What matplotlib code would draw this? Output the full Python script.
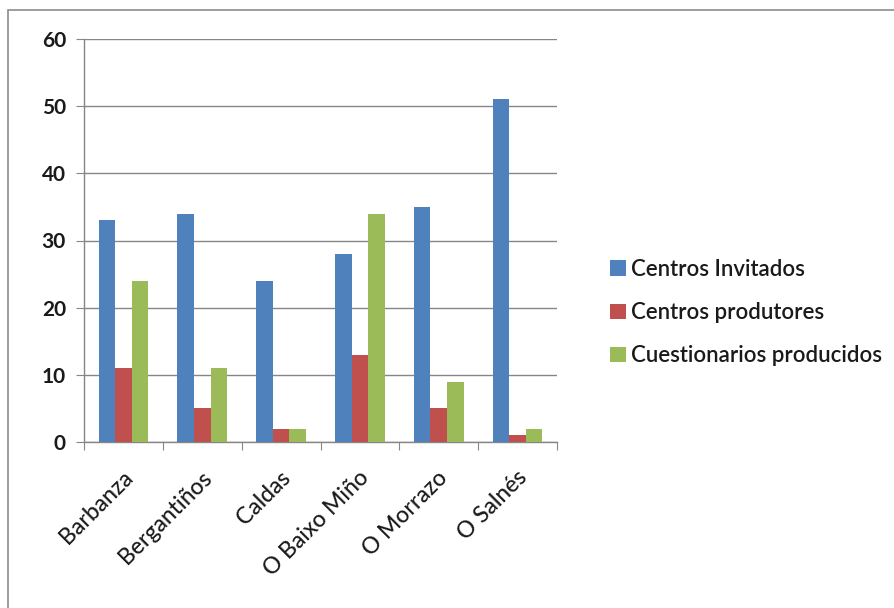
import numpy as np
import matplotlib
matplotlib.use("Agg")
import matplotlib.pyplot as plt
from matplotlib.patches import Rectangle

# ── Data ──────────────────────────────────────────────────────────────────────
comarcas = ["Barbanza", "Bergantiños", "Caldas", "O Baixo Miño", "O Morrazo", "O Salnés"]
centros_invitados = [33, 34, 24, 28, 35, 51]
centros_produtores = [11, 5, 2, 13, 5, 1]
cuestionarios = [24, 11, 2, 34, 9, 2]

series = [
    ("Centros Invitados", centros_invitados, "#4F81BD"),
    ("Centros produtores", centros_produtores, "#C0504D"),
    ("Cuestionarios producidos", cuestionarios, "#9BBB59"),
]

plt.rcParams["font.family"] = ["Lato", "DejaVu Sans"]

W, H = 894, 608
fig = plt.figure(figsize=(W / 100, H / 100), dpi=100)
ax = fig.add_axes([84 / W, 1 - 442 / H, (557 - 84) / W, (442 - 39) / H])

# outer chart frame (only top/left edges fall inside the image)
fig.patches.append(Rectangle((8 / W, -0.1), 1.2, 1.1 - 10 / H, transform=fig.transFigure,
                             fill=False, edgecolor="#8c8c8c", lw=1.2, zorder=0))

x = np.arange(len(comarcas))
bw = 0.21
for i, (name, vals, col) in enumerate(series):
    ax.bar(x + (i - 1) * bw, vals, width=bw, color=col, label=name, zorder=3)

ax.set_xlim(-0.5, len(comarcas) - 0.5)
ax.set_ylim(0, 60)
ax.set_yticks(range(0, 61, 10))
ax.tick_params(axis="y", labelsize=15, length=6, color="#868686", pad=7)
for lab in ax.get_yticklabels():
    lab.set_fontweight("bold")
    lab.set_color("#1a1a1a")

ax.yaxis.grid(True, color="#868686", lw=1.0, zorder=0)
ax.set_axisbelow(True)

# category ticks sit on the group boundaries, labels at the centres
ax.set_xticks(np.arange(-0.5, len(comarcas)), minor=False)
ax.set_xticklabels([])
ax.tick_params(axis="x", length=6, color="#868686")
ax.set_xticks(x - 0.02, minor=True)
ax.set_xticklabels(comarcas, minor=True, rotation=45, ha="right",
                   rotation_mode="anchor", fontsize=16.5, fontweight="medium",
                   color="#1a1a1a")
ax.tick_params(axis="x", which="minor", length=0, pad=18)

for s in ["top", "right"]:
    ax.spines[s].set_visible(False)
for s in ["left", "bottom"]:
    ax.spines[s].set_color("#868686")
    ax.spines[s].set_linewidth(1.0)

leg = ax.legend(loc="upper left", bbox_to_anchor=(590 / W, 1 - 239 / H),
                bbox_transform=fig.transFigure, frameon=False, fontsize=16,
                handlelength=0.7, handleheight=0.7, handletextpad=0.25,
                labelspacing=1.0)
for t in leg.get_texts():
    t.set_color("#1a1a1a")
    t.set_fontweight("semibold")

fig.savefig("out.png", dpi=100, facecolor="white")
